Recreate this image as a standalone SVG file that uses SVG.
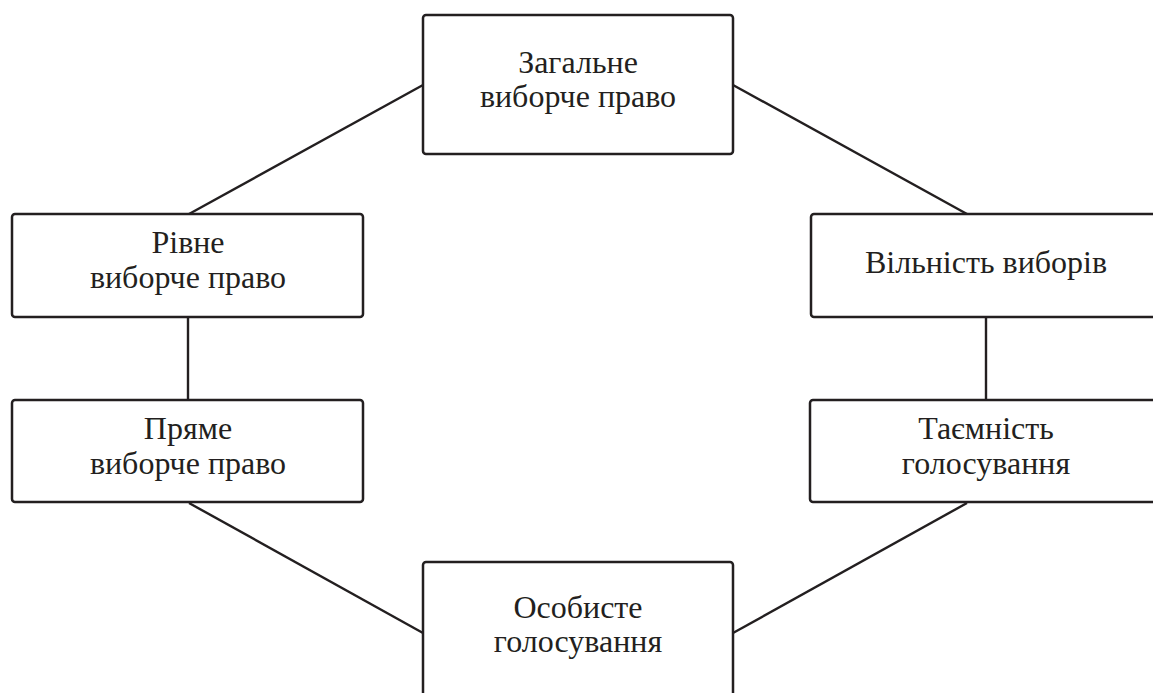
<svg xmlns="http://www.w3.org/2000/svg" width="1153" height="693" viewBox="0 0 1153 693">
<style>
.box{fill:#fff;stroke:#231f20;stroke-width:2.5}
.ln{stroke:#231f20;stroke-width:2.4;fill:none}
text{font-family:"Liberation Serif","Times New Roman",serif;font-size:32px;fill:#231f20;text-anchor:middle}
</style>
<rect width="1153" height="693" fill="#fff"/>
<g id="connectors">
<line class="ln" x1="423" y1="85" x2="189" y2="214"/>
<line class="ln" x1="733" y1="85" x2="967" y2="214"/>
<line class="ln" x1="188" y1="317" x2="188" y2="400"/>
<line class="ln" x1="986" y1="317" x2="986" y2="400"/>
<line class="ln" x1="189" y1="503" x2="423" y2="633"/>
<line class="ln" x1="967" y1="503" x2="733" y2="633"/>
</g>
<g id="n1"><rect class="box" x="423" y="15" width="310" height="139" rx="3"/><text x="578" y="73">Загальне</text><text x="578" y="107">виборче право</text></g>
<g id="n2"><rect class="box" x="12" y="214" width="351" height="103" rx="3"/><text x="188" y="253">Рівне</text><text x="188" y="288">виборче право</text></g>
<g id="n3"><rect class="box" x="811" y="214" width="352" height="103" rx="3"/><text x="986" y="273">Вільність виборів</text></g>
<g id="n4"><rect class="box" x="12" y="400" width="351" height="102" rx="3"/><text x="188" y="439">Пряме</text><text x="188" y="474">виборче право</text></g>
<g id="n5"><rect class="box" x="810" y="400" width="352" height="102" rx="3"/><text x="986" y="439">Таємність</text><text x="986" y="474">голосування</text></g>
<g id="n6"><rect class="box" x="423" y="562" width="310" height="150" rx="3"/><text x="578" y="618">Особисте</text><text x="578" y="652">голосування</text></g>
</svg>
